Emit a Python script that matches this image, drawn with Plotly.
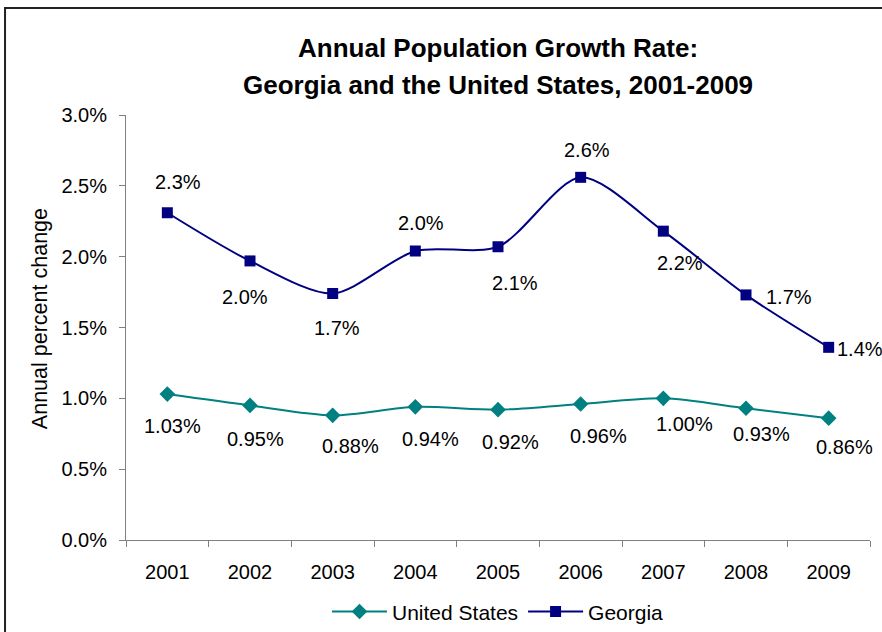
import plotly.graph_objects as go

years = ["2001", "2002", "2003", "2004", "2005", "2006", "2007", "2008", "2009"]
us_values = [1.03, 0.95, 0.88, 0.94, 0.92, 0.96, 1.00, 0.93, 0.86]
ga_values = [2.31, 1.97, 1.74, 2.04, 2.07, 2.56, 2.18, 1.73, 1.36]
us_labels = ["1.03%", "0.95%", "0.88%", "0.94%", "0.92%", "0.96%", "1.00%", "0.93%", "0.86%"]
ga_labels = ["2.3%", "2.0%", "1.7%", "2.0%", "2.1%", "2.6%", "2.2%", "1.7%", "1.4%"]
y_ticks = [0, 0.5, 1.0, 1.5, 2.0, 2.5, 3.0]
y_tick_text = ["0.0%", "0.5%", "1.0%", "1.5%", "2.0%", "2.5%", "3.0%"]

# label offsets in pixels (dx, dy-up)
us_shift = [(5, -32), (5, -34), (18, -31), (15, -32), (12, -32), (18, -32), (21, -26), (15, -26), (16, -29)]
ga_shift = [(11, 31), (-5, -36), (4, -34), (6, 28), (17, -36), (6, 27), (17, -32), (43, -2), (31, -2)]

FONT = "Liberation Sans, Arial, sans-serif"
US_COLOR = "#008080"
GA_COLOR = "#000080"

fig = go.Figure()
fig.add_trace(go.Scatter(
    x=years, y=us_values, name="United States", mode="lines+markers",
    line=dict(color=US_COLOR, width=2, shape="spline", smoothing=0.8),
    marker=dict(symbol="diamond", size=12, color=US_COLOR),
))
fig.add_trace(go.Scatter(
    x=years, y=ga_values, name="Georgia", mode="lines+markers",
    line=dict(color=GA_COLOR, width=2, shape="spline", smoothing=0.8),
    marker=dict(symbol="square", size=11, color=GA_COLOR),
))

annotations = []
for i, (v, t, (dx, dy)) in enumerate(zip(us_values, us_labels, us_shift)):
    annotations.append(dict(x=i, y=v, xref="x", yref="y", text=t, showarrow=False, xshift=dx, yshift=dy,
                            font=dict(family=FONT, size=20, color="black")))
for i, (v, t, (dx, dy)) in enumerate(zip(ga_values, ga_labels, ga_shift)):
    annotations.append(dict(x=i, y=v, xref="x", yref="y", text=t, showarrow=False, xshift=dx, yshift=dy,
                            font=dict(family=FONT, size=20, color="black")))

# Title lines
annotations.append(dict(xref="paper", yref="paper", x=0.5, y=1.158, text="<b>Annual Population Growth Rate:</b>",
                        showarrow=False, xanchor="center", yanchor="middle",
                        font=dict(family=FONT, size=26, color="black")))
annotations.append(dict(xref="paper", yref="paper", x=0.5, y=1.0706, text="<b>Georgia and the United States, 2001-2009</b>",
                        showarrow=False, xanchor="center", yanchor="middle",
                        font=dict(family=FONT, size=26, color="black")))
# Y axis title
annotations.append(dict(xref="paper", yref="paper", x=-0.1156, y=0.522, text="Annual percent change",
                        showarrow=False, textangle=-90, xanchor="center", yanchor="middle",
                        font=dict(family=FONT, size=21.5, color="black")))

fig.update_layout(
    width=882, height=632,
    margin=dict(l=126, r=12, t=115, b=92, autoexpand=False),
    paper_bgcolor="white", plot_bgcolor="white",
    showlegend=True,
    legend=dict(orientation="h", x=0.5, xanchor="center", y=-0.169, yanchor="middle",
                font=dict(family=FONT, size=21, color="black"), itemwidth=55,
                bgcolor="rgba(0,0,0,0)"),
    annotations=annotations,
    shapes=[dict(type="rect", xref="paper", yref="paper", x0=-0.1626, y0=-0.3, x1=1.04, y1=1.2518,
                 line=dict(color="#222222", width=2), fillcolor="rgba(0,0,0,0)", layer="below")],
    font=dict(family=FONT, size=19, color="black"),
)
fig.update_xaxes(
    type="category", range=[-0.5, 8.5], showgrid=False, zeroline=False,
    showline=True, linecolor="#808080", linewidth=1,
    ticks="outside", tickson="boundaries", ticklen=6, tickcolor="#808080",
    tickfont=dict(family=FONT, size=20, color="black"), ticklabelstandoff=14,
)
fig.update_yaxes(
    range=[0, 3.0], tickmode="array", tickvals=y_ticks, ticktext=y_tick_text,
    showgrid=False, zeroline=False, showline=True, linecolor="#808080", linewidth=1,
    ticks="outside", ticklen=6, tickcolor="#808080",
    tickfont=dict(family=FONT, size=20, color="black"), ticklabelstandoff=8,
)

fig.write_html("out.html")
